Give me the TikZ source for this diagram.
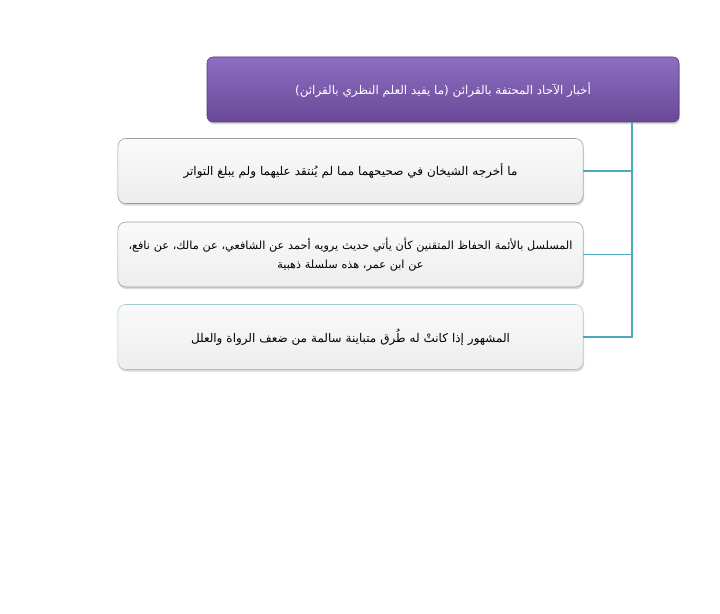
\documentclass[tikz,border=0pt]{standalone}
\usepackage{fontspec}
\newfontfamily\arabicfont[Script=Arabic]{DejaVu Sans}
\TeXXeTstate=1
\usetikzlibrary{shadows}
\definecolor{headtop}{HTML}{8D6EC0}
\definecolor{headbot}{HTML}{6A4897}
\definecolor{linkteal}{HTML}{4FA8B9}
\definecolor{edgeone}{HTML}{9C9C9C}
\definecolor{edgetwo}{HTML}{8F9CB2}
\definecolor{edgethree}{HTML}{A3C9CC}
\begin{document}
\begin{tikzpicture}[
  headbox/.style={rounded corners=0.15cm, minimum width=11.8cm, minimum height=1.625cm,
    top color=headtop, bottom color=headbot, draw=headbot!80!black, text=white,
    font=\arabicfont\fontsize{8.5}{11}\selectfont,
    drop shadow={shadow xshift=0.6pt, shadow yshift=-1.6pt, opacity=0.35}},
  itembox/.style={rounded corners=0.2cm, text width=11.4cm, minimum height=1.625cm,
    top color=black!2, bottom color=black!7, align=center,
    font=\arabicfont\fontsize{8.5}{14}\selectfont,
    drop shadow={shadow xshift=0.6pt, shadow yshift=-1.6pt, opacity=0.3}},
  link/.style={draw=linkteal, line width=1.1pt}]
  \useasboundingbox (0,0) rectangle (18,15.35);
  \node [headbox] (head) at (11.075,13.1125)
    {\beginR أخبار الآحاد المحتفة بالقرائن (ما يفيد العلم النظري بالقرائن)\endR};
  \node [itembox, draw=edgeone] (b1) at (8.7625,11.075)
    {\beginR ما أخرجه الشيخان في صحيحهما مما لم يُنتقد عليهما ولم يبلغ التواتر\endR};
  \node [itembox, draw=edgetwo, font=\arabicfont\fontsize{8}{14}\selectfont] (b2) at (8.7625,8.9875)
    {\beginR المسلسل بالأئمة الحفاظ المتقنين كأن يأتي حديث يرويه أحمد عن الشافعي، عن مالك، عن نافع،\endR\\
     \beginR عن ابن عمر، هذه سلسلة ذهبية\endR};
  \node [itembox, draw=edgethree] (b3) at (8.7625,6.925)
    {\beginR المشهور إذا كانتْ له طُرق متباينة سالمة من ضعف الرواة والعلل\endR};
  \coordinate (trunk) at (15.8,0);
  \draw [link] (head.south -| trunk) -- (b3.east -| trunk) -- (b3.east);
  \draw [link] (b1.east) -- (b1.east -| trunk);
  \draw [link] (b2.east) -- (b2.east -| trunk);
\end{tikzpicture}
\end{document}
